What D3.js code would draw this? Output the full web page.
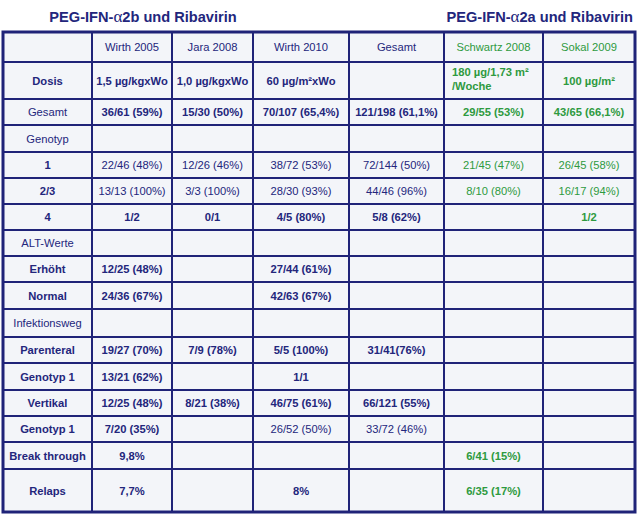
<!DOCTYPE html>
<html>
<head>
<meta charset="utf-8">
<script src="https://cdn.jsdelivr.net/npm/d3@7"></script>
<style>
  body { margin: 0; background: #fff; }
  text { font-family: "Liberation Sans", Arial, sans-serif; }
</style>
</head>
<body>
<div id="chart"></div>
<script>
// table content
var columns = ["", "Wirth 2005", "Jara 2008", "Wirth 2010", "Gesamt", "Schwartz 2008", "Sokal 2009"];
var greenCols = [5, 6];

var rowLabels = ["Dosis", "Gesamt", "Genotyp", "1", "2/3", "4", "ALT-Werte", "Erhöht", "Normal",
  "Infektionsweg", "Parenteral", "Genotyp 1", "Vertikal", "Genotyp 1", "Break through", "Relaps"];

var wirth2005 = ["1,5 µg/kgxWo", "36/61 (59%)", "", "22/46 (48%)", "13/13 (100%)", "1/2", "", "12/25 (48%)", "24/36 (67%)", "", "19/27 (70%)", "13/21 (62%)", "12/25 (48%)", "7/20 (35%)", "9,8%", "7,7%"];
var jara2008 = ["1,0 µg/kgxWo", "15/30 (50%)", "", "12/26 (46%)", "3/3 (100%)", "0/1", "", "", "", "", "7/9 (78%)", "", "8/21 (38%)", "", "", ""];
var wirth2010 = ["60 µg/m²xWo", "70/107 (65,4%)", "", "38/72 (53%)", "28/30 (93%)", "4/5 (80%)", "", "27/44 (61%)", "42/63 (67%)", "", "5/5 (100%)", "1/1", "46/75 (61%)", "26/52 (50%)", "", "8%"];
var gesamt = ["", "121/198 (61,1%)", "", "72/144 (50%)", "44/46 (96%)", "5/8 (62%)", "", "", "", "", "31/41(76%)", "", "66/121 (55%)", "33/72 (46%)", "", ""];
var schwartz2008 = ["180 µg/1,73 m²\n/Woche", "29/55 (53%)", "", "21/45 (47%)", "8/10 (80%)", "", "", "", "", "", "", "", "", "", "6/41 (15%)", "6/35 (17%)"];
var sokal2009 = ["100 µg/m²", "43/65 (66,1%)", "", "26/45 (58%)", "16/17 (94%)", "1/2", "", "", "", "", "", "", "", "", "", ""];

// which cells are bold: label bold, values bold (per row); one override for row "Genotyp 1" (2nd)
var labelBold = [1, 0, 0, 1, 1, 1, 0, 1, 1, 0, 1, 1, 1, 1, 1, 1];
var valueBold = [1, 1, 0, 0, 0, 1, 0, 1, 1, 0, 1, 1, 1, 0, 1, 1];

var headers = ["PEG-IFN-α2b und Ribavirin", "PEG-IFN-α2a und Ribavirin"];

// layout
var width = 640, height = 519;
var colWidths = [89, 80, 81, 96, 95, 99, 92];
var rowHeights = [30, 37, 26, 27, 26, 26, 26, 26, 26, 27, 28, 26, 27, 26, 26, 27, 43];
var tableX = 3, tableY = 32;
var fontSize = 11.2;
var navy = "#23267c", green = "#2e9a40", border = "#1f2378", cellBg = "#f3f5f9";

var colX = [tableX].concat(Array.from(d3.cumsum(colWidths), function(d) { return tableX + d; }));
var rowY = [tableY].concat(Array.from(d3.cumsum(rowHeights), function(d) { return tableY + d; }));

var series = [null, wirth2005, jara2008, wirth2010, gesamt, schwartz2008, sokal2009];

var svg = d3.select("#chart").append("svg")
    .attr("width", width)
    .attr("height", height);

// titles
var t1 = svg.append("text")
  .attr("x", 143).attr("y", 22)
  .attr("text-anchor", "middle")
  .attr("font-size", 14.6).attr("font-weight", "bold")
  .attr("fill", navy);
var t2 = svg.append("text")
  .attr("x", 633).attr("y", 22)
  .attr("text-anchor", "end")
  .attr("font-size", 14.6).attr("font-weight", "bold")
  .attr("fill", navy);
[t1, t2].forEach(function(t, i) {
  var parts = headers[i].split("α");
  t.append("tspan").text(parts[0]);
  t.append("tspan").attr("font-family", "'Liberation Serif', serif").attr("font-weight", "normal").attr("font-size", 17).text("α");
  t.append("tspan").text(parts[1]);
});

// background
svg.append("rect")
  .attr("x", tableX).attr("y", tableY)
  .attr("width", colX[colX.length - 1] - tableX)
  .attr("height", rowY[rowY.length - 1] - tableY)
  .attr("fill", cellBg);

// build cell list
var cells = [];
columns.forEach(function(c, j) {
  cells.push({ r: 0, c: j, text: c, bold: false, green: greenCols.indexOf(j) >= 0 });
});
rowLabels.forEach(function(lab, i) {
  cells.push({ r: i + 1, c: 0, text: lab, bold: !!labelBold[i], green: false });
  for (var j = 1; j < series.length; j++) {
    var b = !!valueBold[i];
    // 2nd "Genotyp 1": only Wirth 2005 value is bold
    if (i === 13 && j === 1) b = true;
    cells.push({ r: i + 1, c: j, text: series[j][i], bold: b, green: greenCols.indexOf(j) >= 0 });
  }
});

var g = svg.append("g");
g.selectAll("text.cell")
  .data(cells.filter(function(d) { return d.text; }))
  .enter().append("text")
    .attr("class", "cell")
    .attr("font-size", fontSize)
    .attr("font-weight", function(d) { return d.bold ? "bold" : "normal"; })
    .attr("fill", function(d) { return d.green ? green : navy; })
    .each(function(d) {
      var lines = d.text.split("\n");
      var el = d3.select(this);
      var cy = (rowY[d.r] + rowY[d.r + 1]) / 2;
      if (lines.length > 1) {
        el.attr("text-anchor", "start");
        lines.forEach(function(l, k) {
          el.append("tspan")
            .attr("x", colX[d.c] + 8)
            .attr("y", cy - 2 + (k - (lines.length - 1) / 2) * 14 + 4)
            .text(l);
        });
      } else {
        el.attr("text-anchor", "middle")
          .attr("x", (colX[d.c] + colX[d.c + 1]) / 2)
          .attr("y", cy + 4)
          .text(d.text);
      }
    });

// grid lines
g.selectAll("line.h")
  .data(rowY.slice(1, -1))
  .enter().append("line")
    .attr("x1", tableX).attr("x2", colX[colX.length - 1])
    .attr("y1", function(d) { return d; }).attr("y2", function(d) { return d; })
    .attr("stroke", border).attr("stroke-width", 2);
g.selectAll("line.v")
  .data(colX.slice(1, -1))
  .enter().append("line")
    .attr("y1", tableY).attr("y2", rowY[rowY.length - 1])
    .attr("x1", function(d) { return d; }).attr("x2", function(d) { return d; })
    .attr("stroke", border).attr("stroke-width", 2);

svg.append("rect")
  .attr("x", tableX).attr("y", tableY)
  .attr("width", colX[colX.length - 1] - tableX)
  .attr("height", rowY[rowY.length - 1] - tableY)
  .attr("fill", "none")
  .attr("stroke", border).attr("stroke-width", 3);
</script>
</body>
</html>
